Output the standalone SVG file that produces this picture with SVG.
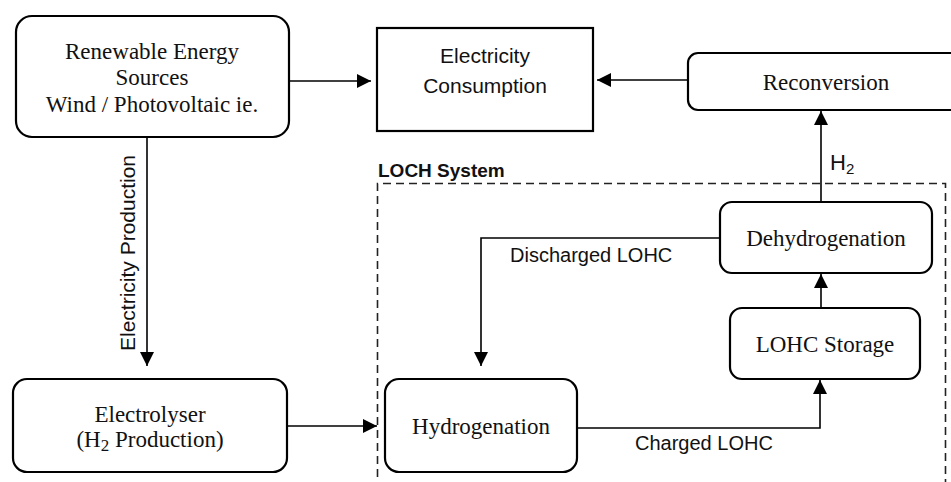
<svg xmlns="http://www.w3.org/2000/svg" width="951" height="482" viewBox="0 0 951 482">
<style>
.box{fill:#fff;stroke:#000;stroke-width:2.2}
.serif{font-family:"Liberation Serif","Times New Roman",serif;font-size:23px;fill:#111;text-anchor:middle}
.sans{font-family:"Liberation Sans",Arial,sans-serif;fill:#111}
.conn{fill:none;stroke:#000;stroke-width:1.6}
</style>
<defs>
<marker id="ah" markerUnits="userSpaceOnUse" markerWidth="15" markerHeight="14" refX="14" refY="7" orient="auto">
<path d="M0,0 L14,7 L0,14 z" fill="#000"/>
</marker>
</defs>
<rect width="951" height="482" fill="#fff"/>
<g id="loch-system">
<path d="M377.5,490 V183.5 H945.5 V490" fill="none" stroke="#222" stroke-width="1.6" stroke-dasharray="8,5"/>
<text class="sans" x="378" y="177" font-size="19" font-weight="bold">LOCH System</text>
</g>
<g id="connectors">
<path class="conn" d="M289,81 H371" marker-end="url(#ah)"/>
<path class="conn" d="M688,80 H597" marker-end="url(#ah)"/>
<path class="conn" d="M147,137 V366" marker-end="url(#ah)"/>
<path class="conn" d="M287,426 H377" marker-end="url(#ah)"/>
<path class="conn" d="M720,238 H481 V366" marker-end="url(#ah)"/>
<path class="conn" d="M577,428 H820 V380" marker-end="url(#ah)"/>
<path class="conn" d="M821,308 V274" marker-end="url(#ah)"/>
<path class="conn" d="M821,202 V111" marker-end="url(#ah)"/>
<text class="sans" font-size="21" transform="translate(135,253) rotate(-90)" text-anchor="middle">Electricity Production</text>
<text class="sans" font-size="20" x="510" y="262">Discharged LOHC</text>
<text class="sans" font-size="20" x="635" y="450">Charged LOHC</text>
<text class="sans" font-size="22" x="830" y="170">H<tspan font-size="15" dy="4">2</tspan></text>
</g>
<g id="renewable">
<rect class="box" x="16" y="16" width="273" height="121" rx="16"/>
<text class="serif" x="152" y="59">Renewable Energy</text>
<text class="serif" x="152" y="85">Sources</text>
<text class="serif" x="152" y="112">Wind / Photovoltaic ie.</text>
</g>
<g id="consumption">
<rect class="box" x="377" y="28" width="216" height="103"/>
<text class="sans" font-size="21" x="485" y="63" text-anchor="middle">Electricity</text>
<text class="sans" font-size="21" x="485" y="93" text-anchor="middle">Consumption</text>
</g>
<g id="reconversion">
<rect class="box" x="688" y="53" width="280" height="57" rx="10"/>
<text class="serif" x="826" y="90">Reconversion</text>
</g>
<g id="dehydrogenation">
<rect class="box" x="720" y="202" width="212" height="71" rx="12"/>
<text class="serif" x="826" y="246">Dehydrogenation</text>
</g>
<g id="storage">
<rect class="box" x="730" y="308" width="190" height="71" rx="12"/>
<text class="serif" x="825" y="352">LOHC Storage</text>
</g>
<g id="hydrogenation">
<rect class="box" x="385" y="379" width="192" height="93" rx="14"/>
<text class="serif" x="481" y="434">Hydrogenation</text>
</g>
<g id="electrolyser">
<rect class="box" x="13" y="379" width="274" height="93" rx="14"/>
<text class="serif" x="150" y="422">Electrolyser</text>
<text class="serif" x="150" y="447">(H<tspan font-size="17" dy="4">2</tspan><tspan dy="-4"> Production)</tspan></text>
</g>
</svg>
